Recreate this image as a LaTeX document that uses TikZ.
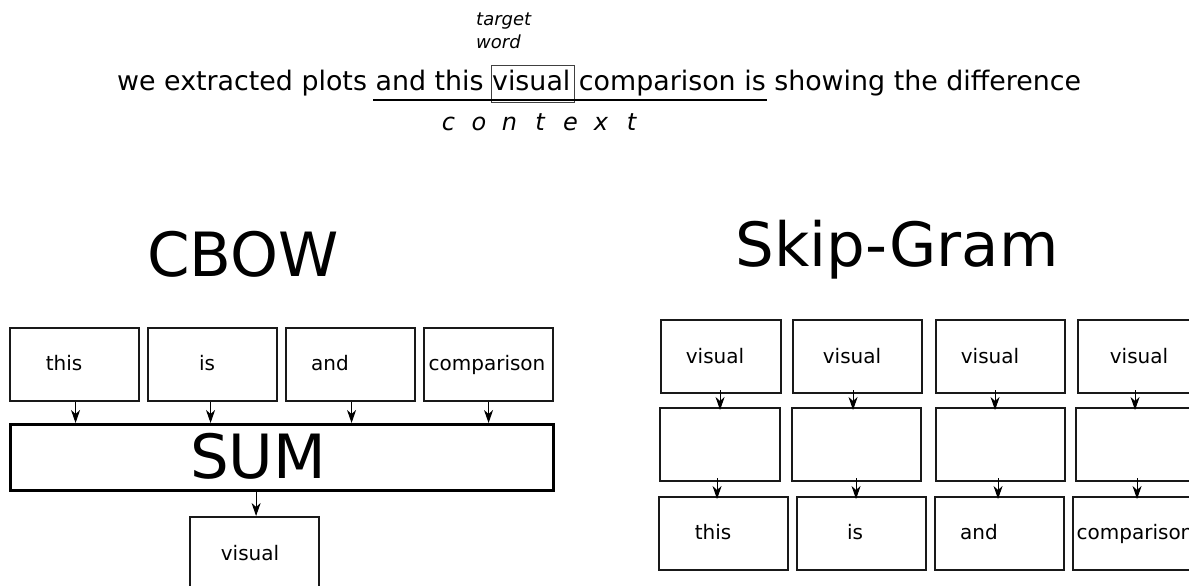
\documentclass[tikz,border=0pt]{standalone}
\usepackage{fontspec}
\setmainfont{DejaVu Sans}
\usetikzlibrary{arrows.meta}
\newcommand{\fsz}[1]{\fontsize{#1}{#1}\selectfont}
\tikzset{
  wbox/.style={draw=black!90, line width=2.1pt, anchor=north west, inner sep=0pt,
               minimum width=129pt, minimum height=73pt},
  sbox/.style={wbox, minimum width=120pt},
  lbl/.style={anchor=base, inner sep=0pt, font=\fsz{20}},
  title/.style={anchor=base, inner sep=0pt, font=\fsz{61}},
  arr/.style={-{Stealth[length=13pt,width=9pt,inset=4pt]}, line width=1.1pt, black},
}
\begin{document}
\begin{tikzpicture}[x=1pt,y=-1pt]
\useasboundingbox (0,0) rectangle (1189,586);
\clip (0,0) rectangle (1189,586);

% ---- sentence ----
\node[anchor=north west, inner sep=0pt, align=left, font=\fsz{18}\itshape] (tgt) at (476,13)
  {target\\[5pt]word};
\node[anchor=base west, inner sep=0pt, font=\fsz{26.85}] (sent) at (117,91)
  {we extracted plots and this visual comparison is showing the difference};
\node[draw=black!75, line width=0.9pt, anchor=north west, minimum width=83pt,
      minimum height=37pt, inner sep=0pt] (twbox) at (491,65) {};
\coordinate (ul1) at (373,100);
\coordinate (ul2) at (767,100);
\draw[line width=1.1pt] (ul1) -- (ul2);
\node[anchor=base, inner sep=0pt, font=\fsz{24}\itshape] (ctx) at (540,130)
  {\makebox[30.5pt]{c}\makebox[30.5pt]{o}\makebox[30.5pt]{n}\makebox[30.5pt]{t}\makebox[30.5pt]{e}\makebox[30.5pt]{x}\makebox[30.5pt]{t}};

% ---- CBOW ----
\node[title] (cbow) at (243,276) {CBOW};
\node[wbox] (c1) at (9,327) {};
\node[wbox] (c2) at (147,327) {};
\node[wbox] (c3) at (285,327) {};
\node[wbox] (c4) at (423,327) {};
\node[lbl] at (64,370) {this};
\node[lbl] at (207,370) {is};
\node[lbl] at (330,370) {and};
\node[lbl] at (487,370) {comparison};
\node[draw=black, line width=3.2pt, anchor=north west, minimum width=543pt,
      minimum height=66pt, inner sep=0pt] (sum) at (9,423) {};
\node[title] at (258,478) {SUM};
\node[wbox] (cv) at (189,516) {};
\node[lbl] at (250,560) {visual};
\draw[arr] ([xshift=1pt]c1.south) -- ([xshift=1pt]c1.south |- sum.north);
\draw[arr] ([xshift=-2pt]c2.south) -- ([xshift=-2pt]c2.south |- sum.north);
\draw[arr] ([xshift=1pt]c3.south) -- ([xshift=1pt]c3.south |- sum.north);
\draw[arr] ([xshift=0pt]c4.south) -- ([xshift=0pt]c4.south |- sum.north);
\draw[arr] ([xshift=-26pt]sum.south) -- ([xshift=-26pt]sum.south |- cv.north);

% ---- Skip-Gram ----
\node[title] (skip) at (897,266) {Skip-Gram};
\node[sbox] (a1) at (660,319) {};
\node[wbox] (a2) at (792,319) {};
\node[wbox] (a3) at (935,319) {};
\node[wbox] (a4) at (1077,319) {};
\node[lbl] at (715,363) {visual};
\node[lbl] at (852,363) {visual};
\node[lbl] at (990,363) {visual};
\node[lbl] at (1139,363) {visual};
\node[sbox] (b1) at (659,407) {};
\node[wbox] (b2) at (791,407) {};
\node[wbox] (b3) at (935,407) {};
\node[wbox] (b4) at (1075,407) {};
\node[wbox] (d1) at (658,496) {};
\node[wbox] (d2) at (796,496) {};
\node[wbox] (d3) at (934,496) {};
\node[wbox] (d4) at (1072,496) {};
\node[lbl] at (713,539) {this};
\node[lbl] at (855,539) {is};
\node[lbl] at (979,539) {and};
\node[lbl] at (1135,539) {comparison};
\draw[arr] ([xshift=-1pt,yshift=4pt]a1.south) -- ([xshift=-1pt,yshift=-3pt]a1.south |- b1.north);
\draw[arr] ([xshift=-4.5pt,yshift=4pt]a2.south) -- ([xshift=-4.5pt,yshift=-3pt]a2.south |- b2.north);
\draw[arr] ([xshift=-5.5pt,yshift=4pt]a3.south) -- ([xshift=-5.5pt,yshift=-3pt]a3.south |- b3.north);
\draw[arr] ([xshift=-7.5pt,yshift=4pt]a4.south) -- ([xshift=-7.5pt,yshift=-3pt]a4.south |- b4.north);
\draw[arr] ([xshift=-3pt,yshift=4pt]b1.south) -- ([xshift=-3pt,yshift=-3pt]b1.south |- d1.north);
\draw[arr] ([xshift=-0.5pt,yshift=4pt]b2.south) -- ([xshift=-0.5pt,yshift=-3pt]b2.south |- d2.north);
\draw[arr] ([xshift=-2.5pt,yshift=4pt]b3.south) -- ([xshift=-2.5pt,yshift=-3pt]b3.south |- d3.north);
\draw[arr] ([xshift=-3.5pt,yshift=4pt]b4.south) -- ([xshift=-3.5pt,yshift=-3pt]b4.south |- d4.north);
\end{tikzpicture}
\end{document}
